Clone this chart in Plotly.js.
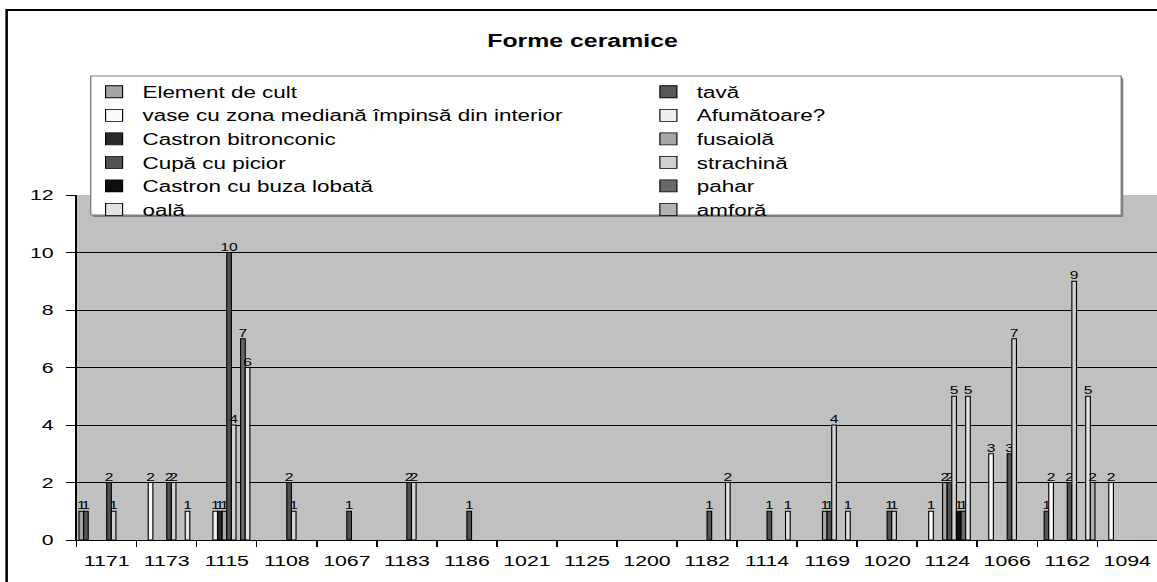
<!DOCTYPE html>
<html>
<head>
<meta charset="utf-8">
<script src="https://cdn.plot.ly/plotly-3.0.1.min.js"></script>
<style>
body{margin:0;background:#fff;overflow:hidden}
#plot{transform-origin:0 0}
</style>
</head>
<body>
<div id="plot"></div>
<script>
var _ = null;

var categories = ['1171','1173','1115','1108','1067','1183','1186','1021','1125','1200',
                  '1182','1114','1169','1020','1124','1066','1162','1094'];

var elementCult  = [1,_,_,_,_,_,_,_,_,_,_,_,_,_,_,_,_,_];
var tava         = [1,_,_,_,_,_,_,_,_,_,_,_,_,_,_,_,1,_];
var vase         = [_,2,_,_,_,_,_,_,_,_,_,_,_,_,1,3,2,2];
var afumatoare   = [_,_,1,_,_,_,_,_,_,_,_,_,_,_,_,_,_,_];
var castronBitr  = [_,_,1,_,_,_,_,_,_,_,_,_,_,_,_,_,_,_];
var fusaiola     = [_,_,1,_,_,_,_,_,_,_,_,_,1,_,2,_,_,_];
var cupa         = [2,2,10,2,1,2,1,_,_,_,1,1,1,1,2,3,2,_];
var strachina    = [1,2,4,1,_,2,_,_,_,_,_,_,4,1,5,7,9,_];
var castronBuza  = [_,_,_,_,_,_,_,_,_,_,_,_,_,_,1,_,_,_];
var pahar        = [_,_,7,_,_,_,_,_,_,_,_,_,_,_,1,_,_,_];
var oala         = [_,1,6,_,_,_,_,_,_,_,2,1,1,_,5,_,5,_];
var amfora       = [_,_,_,_,_,_,_,_,_,_,_,_,_,_,_,_,2,_];

var names = ['Element de cult', 'tavă', 'vase cu zona mediană împinsă din interior', 'Afumătoare?',
             'Castron bitronconic', 'fusaiolă', 'Cupă cu picior', 'strachină',
             'Castron cu buza lobată', 'pahar', 'oală', 'amforă'];
var series = [elementCult, tava, vase, afumatoare, castronBitr, fusaiola,
              cupa, strachina, castronBuza, pahar, oala, amfora];
var colors = ['#a4a4a4', '#575757', '#f9f9f9', '#efefef', '#2a2a2a', '#a6a6a6',
              '#525252', '#d1d1d1', '#0e0e0e', '#696969', '#e2e2e2', '#b2b2b2'];

// the original picture is stretched sideways, so the figure is drawn narrower
// and widened with a css scale
var S = 1.42;
var W = 1157 / S, H = 582;
var el = document.getElementById('plot');
el.style.width = W + 'px';
el.style.height = H + 'px';
el.style.transform = 'scaleX(' + S + ')';

var FONT = 'Liberation Sans, Arial, sans-serif';

var data = series.map(function (vals, i) {
  return {
    type: 'bar',
    name: names[i],
    x: categories,
    y: vals,
    marker: {color: colors[i], line: {color: '#000', width: 0.8}},
    text: vals.map(function (v) { return v === null ? '' : String(v); }),
    textposition: 'outside',
    constraintext: 'none',
    cliponaxis: false,
    textfont: {family: FONT, size: 11, color: '#000'},
    outsidetextfont: {family: FONT, size: 11, color: '#000'},
    legend: i % 2 === 0 ? 'legend' : 'legend2',
    hoverinfo: 'x+y+name'
  };
});

// picture pixels -> paper fractions (plot area 77..1157 x 195..540)
function px(x) { return (x - 77) / 1080; }
function py(y) { return (540 - y) / 345; }

var legendCommon = {
  bgcolor: 'rgba(0,0,0,0)', borderwidth: 0,
  font: {family: FONT, size: 15.8, color: '#000'},
  xanchor: 'left', yanchor: 'top', orientation: 'v',
  traceorder: 'normal', itemclick: false, itemdoubleclick: false
};

var layout = {
  width: W, height: H, autosize: false,
  margin: {l: 77 / S, r: 0, t: 195, b: 42, pad: 0},
  paper_bgcolor: '#fff',
  plot_bgcolor: '#c0c0c0',
  barmode: 'group',
  bargap: 1 / 13,
  bargroupgap: 0,
  showlegend: true,
  title: {
    text: '<b>Forme ceramice</b>',
    font: {family: FONT, size: 17.5, color: '#000'},
    xref: 'container', x: 582.5 / 1157, xanchor: 'center',
    yref: 'container', y: 1 - 41 / 582, yanchor: 'middle'
  },
  xaxis: {
    type: 'category',
    showline: true, linecolor: '#000', linewidth: 1,
    ticks: 'outside', tickson: 'boundaries', ticklen: 6, tickcolor: '#000', tickwidth: 0.8,
    tickfont: {family: FONT, size: 15, color: '#000'},
    ticklabelstandoff: 7,
    showgrid: false, zeroline: false, fixedrange: true
  },
  yaxis: {
    range: [0, 12], dtick: 2, tick0: 0,
    showline: true, linecolor: '#000', linewidth: 0.8,
    ticks: 'outside', ticklen: 6.3, tickcolor: '#000',
    tickfont: {family: FONT, size: 15, color: '#000'},
    ticklabelstandoff: 6,
    showgrid: true, gridcolor: '#000', gridwidth: 1,
    zeroline: false, fixedrange: true
  },
  legend: Object.assign({}, legendCommon, {x: px(86), y: py(75)}),
  legend2: Object.assign({}, legendCommon, {x: px(640), y: py(75)}),
  shapes: [
    // outer chart frame (cut off at right and bottom)
    {type: 'rect', xref: 'paper', yref: 'paper', layer: 'above',
     x0: px(7), x1: px(1200), y0: py(10), y1: py(640),
     line: {color: '#000', width: 1.8}, fillcolor: 'rgba(0,0,0,0)'},
    // legend box shadow
    {type: 'rect', xref: 'paper', yref: 'paper', layer: 'above',
     x0: px(93), x1: px(1123), y0: py(78), y1: py(217),
     line: {width: 0}, fillcolor: '#808080'},
    // legend box
    {type: 'rect', xref: 'paper', yref: 'paper', layer: 'above',
     x0: px(91), x1: px(1121), y0: py(76), y1: py(215),
     line: {color: '#808080', width: 1}, fillcolor: '#fff'}
  ]
};

Plotly.newPlot('plot', data, layout, {displayModeBar: false});
</script>
</body>
</html>
